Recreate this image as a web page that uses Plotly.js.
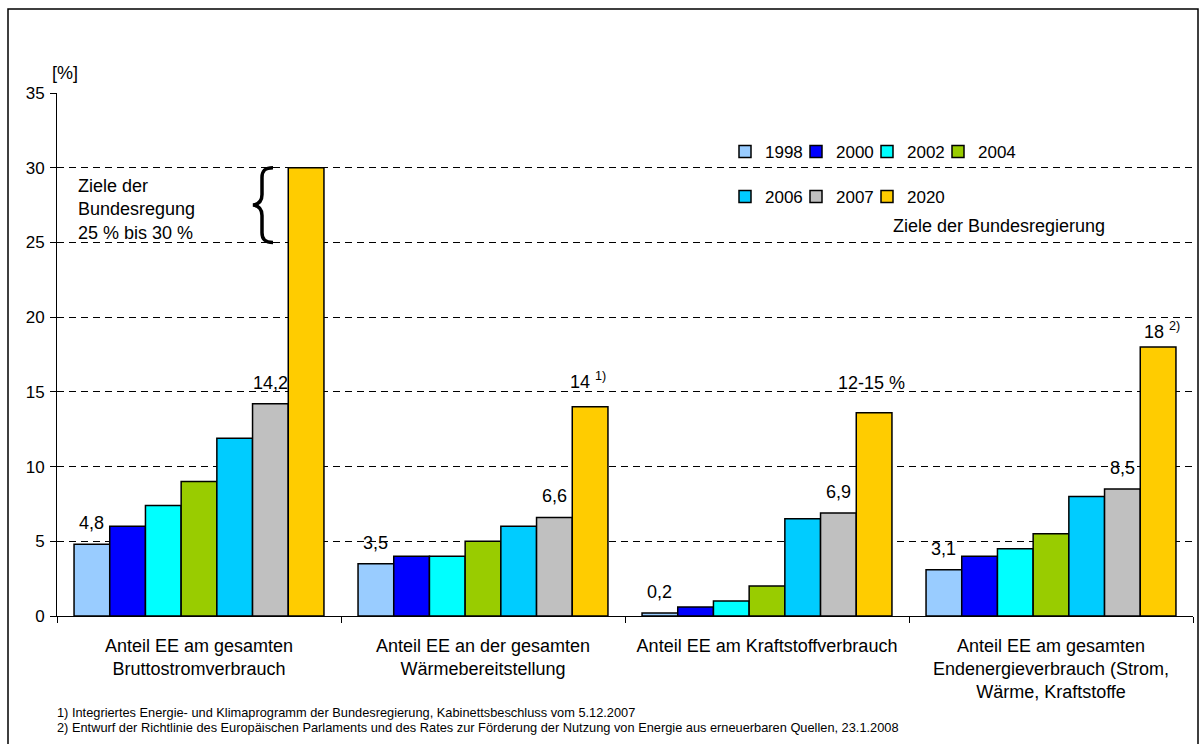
<!DOCTYPE html>
<html>
<head>
<meta charset="utf-8">
<script src="https://cdn.plot.ly/plotly-3.0.1.min.js"></script>
<style>
  html, body { margin: 0; padding: 0; background: #fff; }
  #chart { width: 1201px; height: 744px; }
</style>
</head>
<body>
<div id="chart"></div>
<script>
// Anteil erneuerbarer Energien (EE) in Deutschland, in Prozent
const categories = [
  "Anteil EE am gesamten<br>Bruttostromverbrauch",
  "Anteil EE an der gesamten<br>Wärmebereitstellung",
  "Anteil EE am Kraftstoffverbrauch",
  "Anteil EE am gesamten<br>Endenergieverbrauch (Strom,<br>Wärme, Kraftstoffe"
];
const years = ["1998", "2000", "2002", "2004", "2006", "2007", "2020"];
const v1998 = [4.8, 3.5, 0.2, 3.1];
const v2000 = [6.0, 4.0, 0.6, 4.0];
const v2002 = [7.4, 4.0, 1.0, 4.5];
const v2004 = [9.0, 5.0, 2.0, 5.5];
const v2006 = [11.9, 6.0, 6.5, 8.0];
const v2007 = [14.2, 6.6, 6.9, 8.5];
const v2020 = [30, 14, 13.6, 18];
const colors = ["#99CCFF", "#0000FF", "#00FFFF", "#99CC00", "#00CCFF", "#C0C0C0", "#FFCC00"];
// Ziele 2020 (Beschriftung der gelben Säulen)
const targetLabels = ["", "14 <sup>1)</sup>", "12-15 %", "18 <sup>2)</sup>"];
const footnotes = [
  "1) Integriertes Energie- und Klimaprogramm der Bundesregierung, Kabinettsbeschluss vom 5.12.2007",
  "2) Entwurf der Richtlinie des Europäischen Parlaments und des Rates zur Förderung der Nutzung von Energie aus erneuerbaren Quellen, 23.1.2008"
];

const series = [v1998, v2000, v2002, v2004, v2006, v2007, v2020];

// Geometrie des Zeichenbereichs (Pixel)
const W = 1201, H = 744;
const M = { l: 57, r: 8, t: 93, b: 128 };
const plotW = W - M.l - M.r, plotH = H - M.t - M.b;
const px = x => (x - M.l) / plotW;          // Pixel -> paper x
const py = y => (H - M.b - y) / plotH;      // Pixel -> paper y
const BARGAP = 0.12;
const barPx = plotW / categories.length * (1 - BARGAP) / years.length;

const FONT = "Liberation Sans, Arial, sans-serif";
const fs = 18;

// Legende: zwei Zeilen (4 + 3 Einträge), jeder Eintrag einzeln platziert
const legendIds = years.map((_, i) => i === 0 ? "legend" : "legend" + (i + 1));
const legendPos = years.map((_, i) => {
  const row = i < 4 ? 0 : 1, col = i < 4 ? i : i - 4;
  return { x: 725 + col * 71, y: row === 0 ? 152 : 197 };
});

const traces = series.map((vals, i) => ({
  type: "bar",
  name: years[i],
  x: categories,
  y: vals,
  marker: { color: colors[i], line: { color: "#000", width: 1.5 } },
  legend: legendIds[i],
  hoverinfo: "name+y"
}));

const fmt = v => String(v).replace(".", ",");
const annotations = [];

// Werte für 1998 und 2007 über den Säulen
[0, 5].forEach(i => {
  series[i].forEach((v, g) => {
    annotations.push({
      x: categories[g], y: v, xref: "x", yref: "y",
      xshift: (i - 3) * barPx, yshift: 9,
      yanchor: "bottom", xanchor: "center",
      text: fmt(v), showarrow: false,
      font: { family: FONT, size: fs, color: "#000" }
    });
  });
});

// Zielwerte 2020
const targetShift = [[0, 0], [-2, 26], [-3, 30], [4, 17]];
targetLabels.forEach((t, g) => {
  if (!t) return;
  annotations.push({
    x: categories[g], y: v2020[g], xref: "x", yref: "y",
    xshift: 3 * barPx + targetShift[g][0], yshift: targetShift[g][1],
    yanchor: "middle", xanchor: "center",
    text: t, showarrow: false,
    font: { family: FONT, size: fs, color: "#000" }
  });
});

annotations.push(
  { xref: "paper", yref: "paper", x: px(50), y: py(73), xanchor: "left", yanchor: "middle",
    text: "[%]", showarrow: false, font: { family: FONT, size: fs, color: "#000" } },
  { xref: "paper", yref: "paper", x: px(76), y: py(174), xanchor: "left", yanchor: "top", align: "left",
    text: "Ziele der<br>Bundesregung<br>25 % bis 30 %", showarrow: false,
    font: { family: FONT, size: fs, color: "#000" } },
  { xref: "paper", yref: "paper", x: px(891), y: py(226), xanchor: "left", yanchor: "middle",
    text: "Ziele der Bundesregierung", showarrow: false,
    font: { family: FONT, size: fs, color: "#000" } },
  { xref: "paper", yref: "paper", x: px(55), y: py(712), xanchor: "left", yanchor: "middle",
    text: footnotes[0], showarrow: false,
    font: { family: FONT, size: 12.8, color: "#000" } },
  { xref: "paper", yref: "paper", x: px(55), y: py(727), xanchor: "left", yanchor: "middle",
    text: footnotes[1], showarrow: false,
    font: { family: FONT, size: 12.8, color: "#000" } }
);

// Geschweifte Klammer für den Zielkorridor 25–30 %
const lo = 25, hi = 30, mid = (lo + hi) / 2;
const bx = p => px(p).toFixed(5);
const brace =
  `M ${bx(273)},${hi} C ${bx(265)},${hi} ${bx(262)},${hi - 0.2} ${bx(262)},${hi - 0.65} ` +
  `L ${bx(262)},${mid + 0.7} C ${bx(262)},${mid + 0.3} ${bx(259)},${mid + 0.05} ${bx(253)},${mid} ` +
  `C ${bx(259)},${mid - 0.05} ${bx(262)},${mid - 0.3} ${bx(262)},${mid - 0.7} ` +
  `L ${bx(262)},${lo + 0.65} C ${bx(262)},${lo + 0.2} ${bx(265)},${lo} ${bx(273)},${lo}`;

const shapes = [
  // Rahmen
  { type: "rect", xref: "paper", yref: "paper", x0: px(8), x1: px(1198), y0: py(746), y1: py(9),
    line: { color: "#000", width: 1.5 }, fillcolor: "rgba(0,0,0,0)", layer: "above" },
  // Hintergrund der Legende
  { type: "rect", xref: "paper", yref: "paper", x0: px(737), x1: px(1025), y0: py(212), y1: py(138),
    line: { width: 0 }, fillcolor: "#fff", layer: "between" },
  { type: "path", xref: "paper", yref: "y", path: brace,
    line: { color: "#000", width: 3.5 }, fillcolor: "rgba(0,0,0,0)", layer: "above" }
];

const layout = {
  width: W, height: H,
  margin: M,
  paper_bgcolor: "#fff", plot_bgcolor: "#fff",
  font: { family: FONT, size: fs, color: "#000" },
  barmode: "group", bargap: BARGAP, bargroupgap: 0,
  showlegend: true,
  xaxis: {
    type: "category",
    showline: true, linecolor: "#000", linewidth: 1,
    ticks: "outside", tickson: "boundaries", ticklen: 6, tickcolor: "#000", tickwidth: 1,
    tickfont: { family: FONT, size: fs, color: "#000" },
    ticklabelstandoff: 13,
    showgrid: false, zeroline: false, fixedrange: true
  },
  yaxis: {
    range: [0, 35], dtick: 5, tick0: 0,
    showline: true, linecolor: "#000", linewidth: 1,
    ticks: "outside", ticklen: 6, tickcolor: "#000", tickwidth: 1,
    tickfont: { family: FONT, size: 17, color: "#000" },
    ticklabelstandoff: 2,
    showgrid: true, gridcolor: "#000", gridwidth: 1, griddash: "7px,5px",
    zeroline: false, fixedrange: true
  },
  annotations: annotations,
  shapes: shapes
};

legendIds.forEach((id, i) => {
  layout[id] = {
    orientation: "h", xanchor: "left", yanchor: "middle",
    x: px(legendPos[i].x), y: py(legendPos[i].y),
    font: { family: FONT, size: 17, color: "#000" },
    bgcolor: "rgba(0,0,0,0)", borderwidth: 0, itemwidth: 30
  };
});

Plotly.newPlot("chart", traces, layout, { displayModeBar: false, staticPlot: true });
</script>
</body>
</html>
